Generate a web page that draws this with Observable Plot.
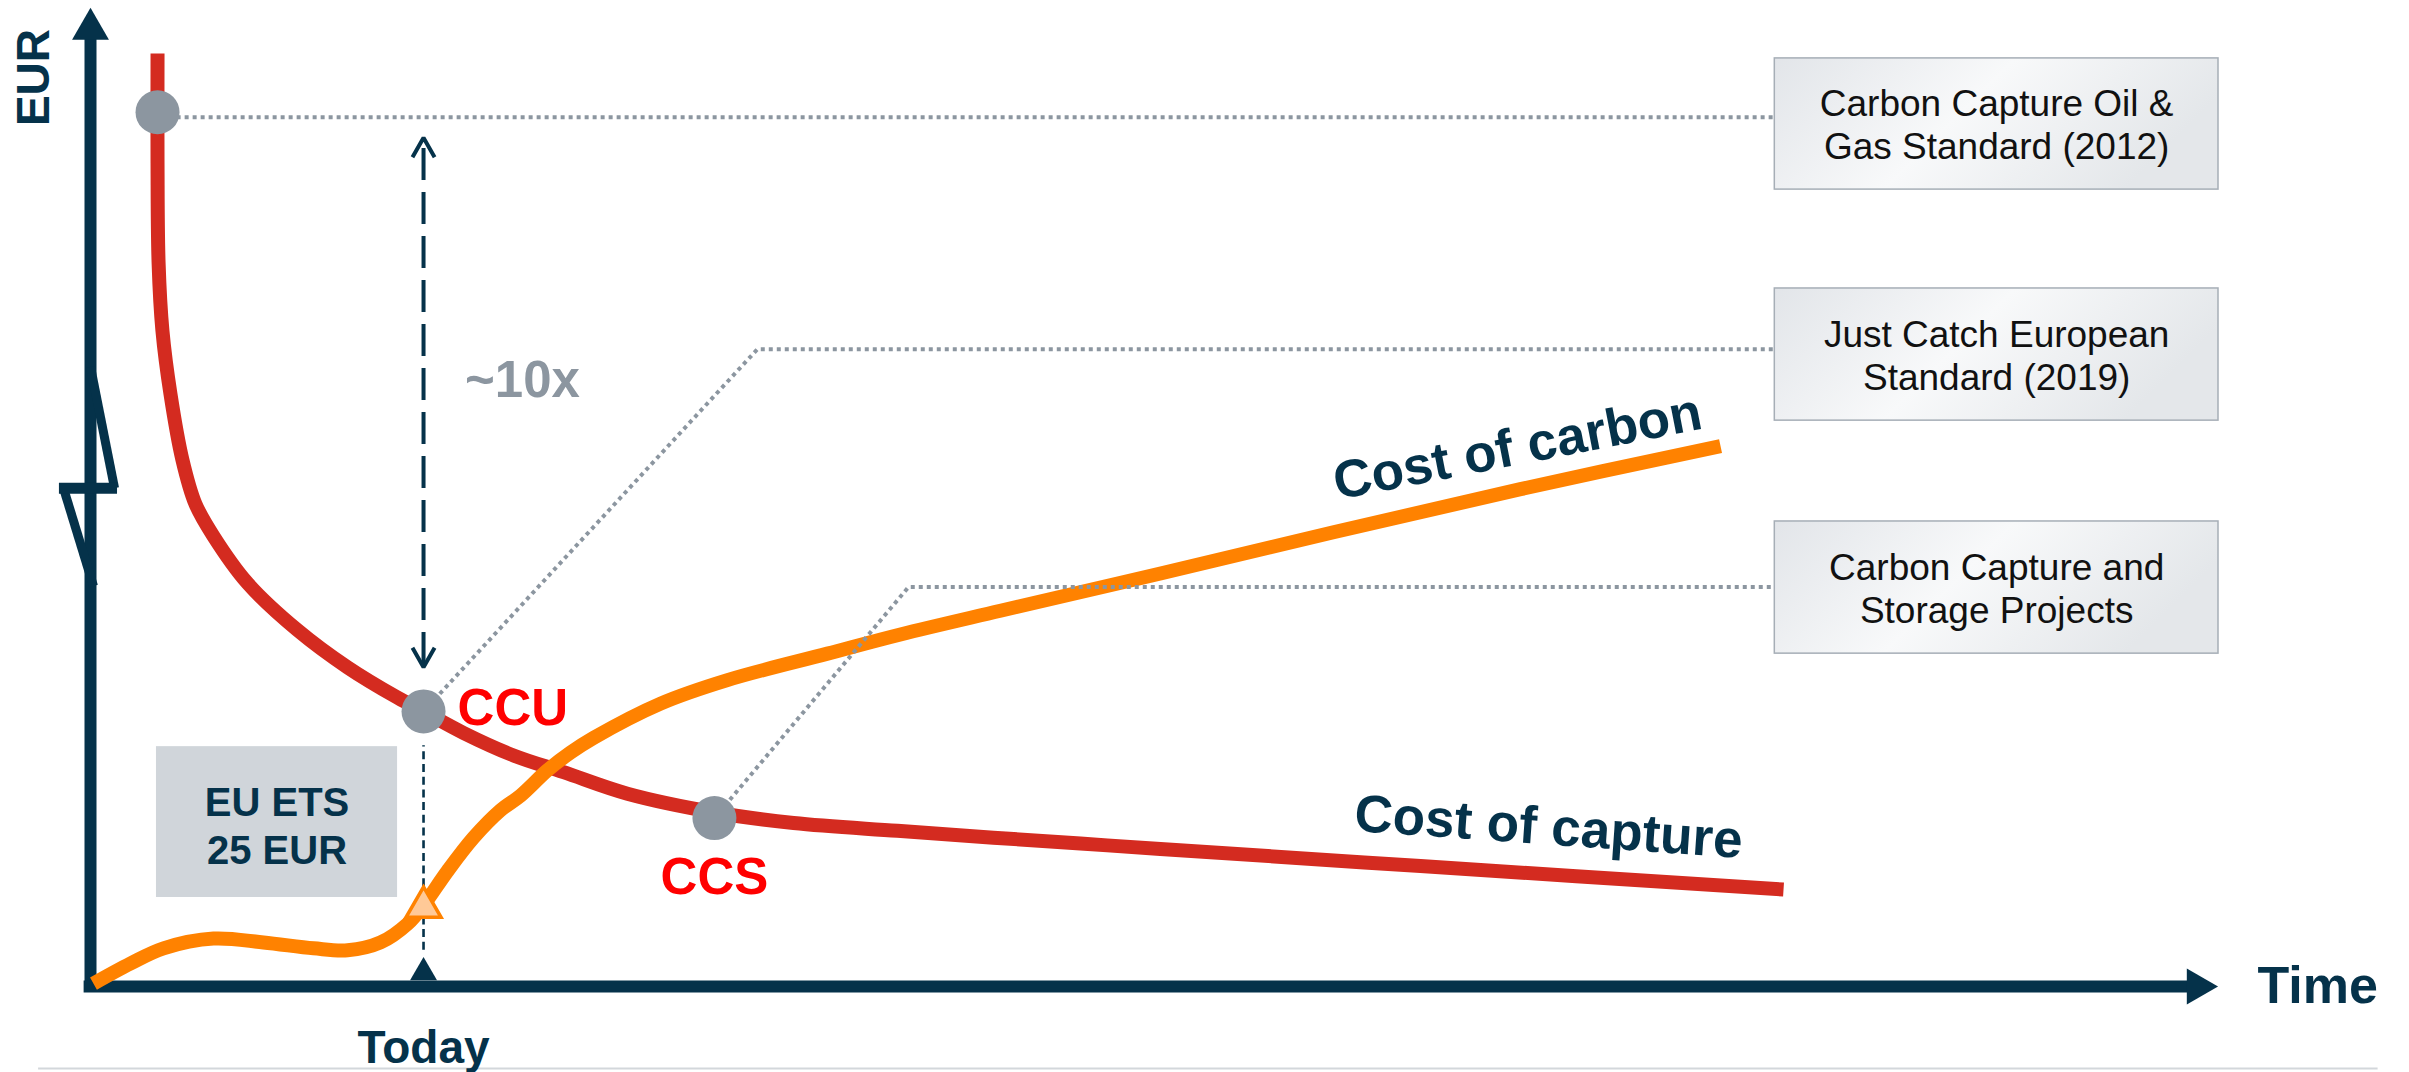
<!DOCTYPE html>
<html>
<head>
<meta charset="utf-8">
<script src="https://cdn.jsdelivr.net/npm/d3@7"></script>
<script src="https://cdn.jsdelivr.net/npm/@observablehq/plot@0.6"></script>
<style>
  html, body { margin: 0; padding: 0; background: #ffffff; }
  #chart svg { display: block; }
</style>
</head>
<body>
<div id="chart"></div>
<script>
// ---------- data (conceptual units: time 0–100, EUR 0–100) ----------
const captureTime = [3.15, 3.15, 3.2, 3.38, 3.76, 4.32, 4.93, 5.78, 7.38, 9.73, 12.08, 14.43, 15.65, 17.53, 19.88, 22.23, 25.23, 29.32, 33.04, 37.92, 42.43, 46.52, 50.28, 62.5, 79.56];
const captureCost = [95.3, 84.1, 73.9, 67.0, 60.5, 53.8, 49.3, 46.0, 41.2, 36.4, 32.6, 29.5, 28.1, 25.9, 23.6, 21.9, 19.7, 17.8, 16.7, 15.9, 15.2, 14.6, 14.05, 12.3, 9.9];

const carbonTime = [0.14, 1.88, 3.43, 5.78, 8.13, 10.48, 12.08, 13.63, 14.9, 15.65, 16.78, 18.0, 19.27, 20.21, 21.48, 22.56, 23.64, 26.79, 29.93, 34.63, 38.06, 42.76, 50.28, 58.41, 67.2, 76.6];
const carbonCost = [0.3, 2.35, 3.9, 4.9, 4.5, 3.9, 3.7, 4.5, 6.4, 8.3, 11.8, 15.2, 18.0, 19.5, 22.1, 23.9, 25.4, 28.9, 31.3, 34.0, 35.96, 38.38, 42.19, 46.4, 50.8, 55.2];

// milestones on the cost-of-capture curve
const milestoneLabels = ["", "CCU", "CCS"];
const milestoneTime = [3.15, 15.65, 29.32];
const milestoneCost = [89.3, 28.1, 17.2];

// standards boxes on the right
const standardLabels = ["Carbon Capture Oil &\nGas Standard (2012)", "Just Catch European\nStandard (2019)", "Carbon Capture and\nStorage Projects"];
const standardTop = [94.8, 71.3, 47.5];
const standardBottom = [81.4, 57.8, 34.0];
const standardLinkCost = [88.8, 65.1, 40.8];
const standardElbowTime = [3.15, 31.34, 38.44];
const standardLeft = 79.15, standardRight = 100.0;

// today / ETS
const today = 15.65;
const todayCarbon = 8.1;
const etsLabel = "EU ETS\n25 EUR";
const etsBox = {x1: 3.1, x2: 14.43, y1: 9.09, y2: 24.5};
const tenfoldLabel = "~10x";
const tenfoldTop = 86.7, tenfoldBottom = 32.6;

// ---------- derived tables ----------
const capture = captureTime.map((t, i) => ({t, c: captureCost[i]}));
const carbon = carbonTime.map((t, i) => ({t, c: carbonCost[i]}));
const milestones = milestoneTime.map((t, i) => ({t, c: milestoneCost[i], label: milestoneLabels[i]}));
const standards = standardLabels.map((label, i) => ({label, top: standardTop[i], bottom: standardBottom[i], mid: (standardTop[i] + standardBottom[i]) / 2}));
const links = standardLabels.flatMap((_, i) => [
  {id: i, t: milestoneTime[i], c: milestoneCost[i]},
  {id: i, t: standardElbowTime[i], c: standardLinkCost[i]},
  {id: i, t: standardLeft, c: standardLinkCost[i]}
]);
const chevW = 0.52, chevH = 2.0;
const chevrons = [
  {id: "up", t: today - chevW, c: tenfoldTop - chevH}, {id: "up", t: today, c: tenfoldTop}, {id: "up", t: today + chevW, c: tenfoldTop - chevH},
  {id: "dn", t: today - chevW, c: tenfoldBottom + chevH}, {id: "dn", t: today, c: tenfoldBottom}, {id: "dn", t: today + chevW, c: tenfoldBottom + chevH}
];
const breakMark = [
  {id: 1, t: 0, c: 63.3}, {id: 1, t: 1.13, c: 50.9},
  {id: 2, t: -1.27, c: 50.9}, {id: 2, t: 0.14, c: 40.9}
];

const navy = "#05324a";
const grey = "#8c96a0";

const chart = Plot.plot({
  width: 2409,
  height: 1072,
  marginLeft: 90,
  marginRight: 191,
  marginTop: 7,
  marginBottom: 86,
  x: {domain: [0, 100], axis: null},
  y: {domain: [0, 100], axis: null},
  style: {fontFamily: "'Liberation Sans', Arial, Helvetica, sans-serif", background: "#ffffff", overflow: "visible"},
  marks: [
    // bottom separator
    Plot.ruleY([-8.38], {x1: -2.44, x2: 107.5, stroke: "#d3d7db", strokeWidth: 2}),
    // standards boxes
    Plot.rect(standards, {x1: standardLeft, x2: standardRight, y1: "bottom", y2: "top", fill: "url(#boxgrad)", stroke: "#a6aeb6", strokeWidth: 1.5}),
    Plot.text(standards, {x: (standardLeft + standardRight) / 2, y: "mid", text: "label", fontSize: 37, lineHeight: 1.16, lineAnchor: "middle", fill: "#111111"}),
    // ETS box
    Plot.rect([etsBox], {x1: "x1", x2: "x2", y1: "y1", y2: "y2", fill: "#d0d5da"}),
    Plot.text([etsLabel], {x: (etsBox.x1 + etsBox.x2) / 2, y: 16.53, text: d => d, fontSize: 40, fontWeight: "bold", lineHeight: 1.2, lineAnchor: "middle", fill: navy}),
    // today thin dashed
    Plot.ruleX([today], {y1: 3.7, y2: 24.6, stroke: navy, strokeWidth: 2.6, strokeDasharray: "8 4.7"}),
    // ~10x dashed arrow
    Plot.ruleX([today], {y1: tenfoldBottom + 0.3, y2: tenfoldTop - 0.3, stroke: navy, strokeWidth: 4, strokeDasharray: "32 12"}),
    Plot.line(chevrons, {x: "t", y: "c", z: "id", stroke: navy, strokeWidth: 4, strokeLinecap: "butt", strokeLinejoin: "miter"}),
    Plot.text([tenfoldLabel], {x: 20.3, y: 61.93, text: d => d, fontSize: 51, fontWeight: "bold", fill: grey}),
    // axes
    Plot.ruleX([0], {y1: -0.6, y2: 97, stroke: navy, strokeWidth: 12}),
    Plot.ruleY([0], {x1: -0.3, x2: 98.6, stroke: navy, strokeWidth: 12}),
    Plot.dot([0], {x: 0, y: 97.8, symbol: "triangle", r: 13.7, fill: navy, stroke: null}),
    Plot.dot([0], {x: 99.0, y: 0, symbol: "triangle", r: 13.4, rotate: 90, fill: navy, stroke: null}),
    Plot.dot([today], {x: d => d, y: 1.43, symbol: "triangle", r: 10, fill: navy, stroke: null}),
    Plot.line(breakMark, {x: "t", y: "c", z: "id", stroke: navy, strokeWidth: 9, strokeLinecap: "butt"}),
    Plot.ruleY([50.9], {x1: -1.46, x2: 1.27, stroke: navy, strokeWidth: 11}),
    // curves
    Plot.line(capture, {x: "t", y: "c", curve: "catmull-rom", stroke: "#d42b20", strokeWidth: 14, strokeLinecap: "butt"}),
    Plot.line(carbon, {x: "t", y: "c", curve: "catmull-rom", stroke: "#ff8200", strokeWidth: 14, strokeLinecap: "butt"}),
    // connectors
    Plot.line(links, {x: "t", y: "c", z: "id", stroke: grey, strokeWidth: 4, strokeDasharray: "4 4", strokeLinecap: "butt"}),
    // milestone dots
    Plot.dot(milestones, {x: "t", y: "c", r: 22, fill: grey, stroke: null}),
    // ETS marker on carbon curve
    Plot.dot([today], {x: d => d, y: todayCarbon, symbol: "triangle", r: 13, fill: "#ffc997", stroke: "#ff8200", strokeWidth: 3.5}),
    // labels
    Plot.text(milestones.filter(d => d.label === "CCU"), {x: 17.25, y: 28.4, text: "label", textAnchor: "start", fontSize: 51, fontWeight: "bold", fill: "#ff0000"}),
    Plot.text(milestones.filter(d => d.label === "CCS"), {x: "t", y: 11.16, text: "label", fontSize: 51, fontWeight: "bold", fill: "#ff0000"}),
    Plot.text(["Cost of carbon"], {x: 67.06, y: 55.06, text: d => d, rotate: -11, fontSize: 53, fontWeight: "bold", fill: navy}),
    Plot.text(["Cost of capture"], {x: 68.52, y: 16.24, text: d => d, rotate: 4, fontSize: 53, fontWeight: "bold", fill: navy}),
    Plot.text(["Today"], {x: today, y: -6.36, text: d => d, fontSize: 46, fontWeight: "bold", fill: navy}),
    Plot.text(["Time"], {x: 101.83, y: 0, text: d => d, textAnchor: "start", fontSize: 52, fontWeight: "bold", fill: navy}),
    Plot.text(["EUR"], {x: -2.63, y: 92.85, text: d => d, rotate: -90, fontSize: 46, fontWeight: "bold", fill: navy})
  ]
});

// gradient for the standards boxes
const svg = d3.select(chart);
const defs = svg.insert("defs", ":first-child");
const grad = defs.append("linearGradient").attr("id", "boxgrad").attr("x1", "0").attr("x2", "1").attr("y1", "0").attr("y2", "0.3");
grad.append("stop").attr("offset", "0%").attr("stop-color", "#e2e5e9");
grad.append("stop").attr("offset", "50%").attr("stop-color", "#f8f9fa");
grad.append("stop").attr("offset", "100%").attr("stop-color", "#e4e7ea");

document.getElementById("chart").appendChild(chart);
</script>
</body>
</html>
